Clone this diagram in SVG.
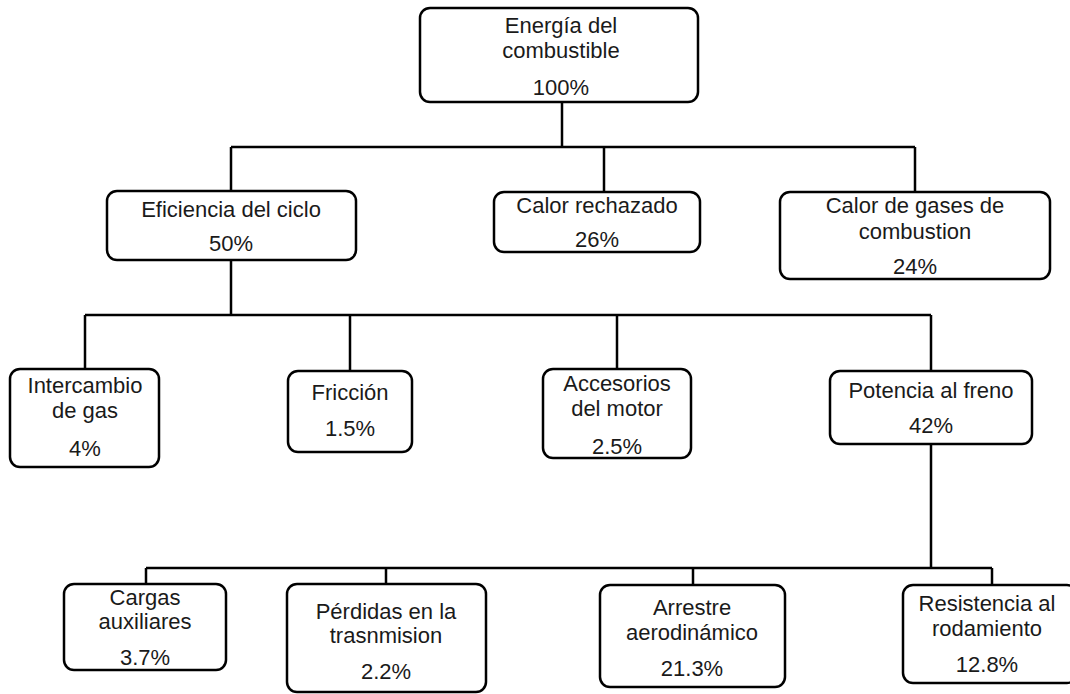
<svg xmlns="http://www.w3.org/2000/svg" width="1070" height="694" viewBox="0 0 1070 694">
<style>
.box{fill:#fff;stroke:#000;stroke-width:2.5}
.ln{fill:none;stroke:#000;stroke-width:2.5}
text{font-family:"Liberation Sans",Arial,sans-serif;font-size:22px;fill:#1a1a1a;text-anchor:middle}
</style>
<rect width="1070" height="694" fill="#fff"/>
<g id="connectors">
<path class="ln" d="M562 102V147M231 147H915M231 147V191M604 147V192M915 147V192"/>
<path class="ln" d="M231 260V315M85 315H931M85 315V369M350 315V371M617 315V369M931 315V371"/>
<path class="ln" d="M931 444V568M146 568H992M146 568V584M386 568V584M693 568V585M992 568V585"/>
</g>
<g id="n-energia"><rect class="box" x="420" y="8" width="278" height="94" rx="10"/><text x="561" y="33">Energía del</text><text x="561" y="58">combustible</text><text x="561" y="95">100%</text></g>
<g id="n-eficiencia"><rect class="box" x="107" y="191" width="249" height="69" rx="10"/><text x="231" y="217">Eficiencia del ciclo</text><text x="231" y="251">50%</text></g>
<g id="n-calor"><rect class="box" x="494" y="192" width="206" height="60" rx="10"/><text x="597" y="213">Calor rechazado</text><text x="597" y="247">26%</text></g>
<g id="n-gases"><rect class="box" x="780" y="192" width="270" height="87" rx="10"/><text x="915" y="213">Calor de gases de</text><text x="915" y="239">combustion</text><text x="915" y="274">24%</text></g>
<g id="n-intercambio"><rect class="box" x="10" y="369" width="149" height="98" rx="10"/><text x="85" y="393">Intercambio</text><text x="85" y="418">de gas</text><text x="85" y="456">4%</text></g>
<g id="n-friccion"><rect class="box" x="288" y="371" width="124" height="81" rx="10"/><text x="350" y="400">Fricción</text><text x="350" y="436">1.5%</text></g>
<g id="n-accesorios"><rect class="box" x="543" y="369" width="148" height="89" rx="10"/><text x="617" y="391">Accesorios</text><text x="617" y="416">del motor</text><text x="617" y="454">2.5%</text></g>
<g id="n-potencia"><rect class="box" x="830" y="371" width="202" height="73" rx="10"/><text x="931" y="398">Potencia al freno</text><text x="931" y="433">42%</text></g>
<g id="n-cargas"><rect class="box" x="64" y="584" width="162" height="86" rx="10"/><text x="145" y="605">Cargas</text><text x="145" y="629">auxiliares</text><text x="145" y="665">3.7%</text></g>
<g id="n-perdidas"><rect class="box" x="287" y="584" width="199" height="108" rx="10"/><text x="386" y="619">Pérdidas en la</text><text x="386" y="643">trasnmision</text><text x="386" y="679">2.2%</text></g>
<g id="n-arrestre"><rect class="box" x="600" y="585" width="185" height="102" rx="10"/><text x="692" y="615">Arrestre</text><text x="692" y="640">aerodinámico</text><text x="692" y="676">21.3%</text></g>
<g id="n-resistencia"><rect class="box" x="903" y="585" width="174" height="98" rx="10"/><text x="987" y="611">Resistencia al</text><text x="987" y="636">rodamiento</text><text x="987" y="672">12.8%</text></g>
</svg>
